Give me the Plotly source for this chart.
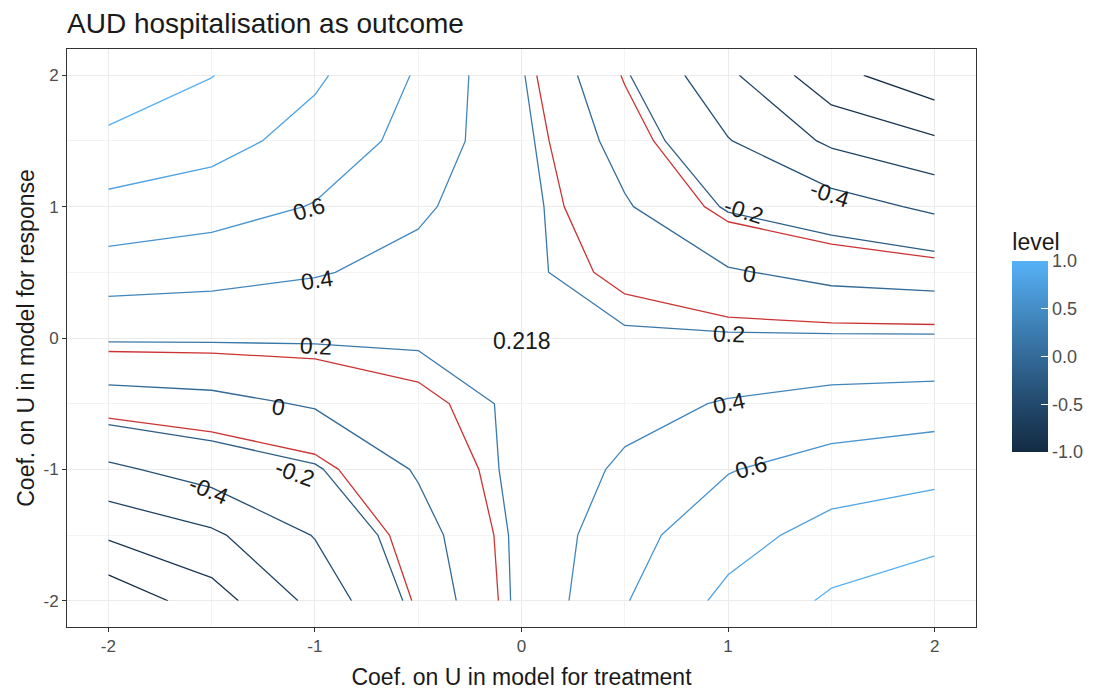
import plotly.graph_objects as go

# grid coordinates
x_vals = [-2.0, -1.5, -1.0, -0.5, 0.0, 0.5, 1.0, 1.5, 2.0]
y_vals = [-2.0, -1.5, -1.0, -0.5, 0.0, 0.5, 1.0, 1.5, 2.0]

# estimated effect on the grid (rows follow y_vals, columns follow x_vals)
z_m20 = [-1.15, -0.89, -0.543, -0.14, 0.24, 0.588, 0.852, 1.029, 1.15]
z_m15 = [-0.77, -0.635, -0.39, -0.078, 0.24, 0.534, 0.72, 0.877, 0.93]
z_m10 = [-0.44, -0.31, -0.22, 0.02, 0.25, 0.434, 0.59, 0.682, 0.743]
z_m05 = [-0.088, -0.056, 0.019, 0.124, 0.227, 0.335, 0.416, 0.473, 0.495]
z_p00 = [0.218, 0.218, 0.218, 0.218, 0.218, 0.218, 0.218, 0.218, 0.218]
z_p05 = [0.505, 0.473, 0.416, 0.335, 0.227, 0.124, 0.019, -0.056, -0.088]
z_p10 = [0.746, 0.682, 0.59, 0.434, 0.25, 0.02, -0.22, -0.31, -0.44]
z_p15 = [0.95, 0.877, 0.72, 0.534, 0.24, -0.078, -0.39, -0.635, -0.77]
z_p20 = [1.16, 1.005, 0.834, 0.58, 0.213, -0.18, -0.559, -0.936, -1.14]
z_grid = [z_m20, z_m15, z_m10, z_m05, z_p00, z_p05, z_p10, z_p15, z_p20]

# significance boundary levels (red)
sig_levels = [-0.165, 0.155]

# axis ticks
tick_vals = [-2, -1, 0, 1, 2]
tick_text = ["-2", "-1", "0", "1", "2"]
cbar_vals = [-1, -0.5, 0, 0.5, 1]
cbar_text = ["-1.0", "-0.5", "0.0", "0.5", "1.0"]

# contour labels
label_text = ["0.6", "0.4", "0.2", "0.218", "0", "-0.2", "-0.4",
              "-0.2", "-0.4", "0", "0.2", "0.4", "0.6"]
label_x = [-1.03, -0.99, -0.996, 0.0, -1.176, -1.098, -1.515,
           1.079, 1.491, 1.103, 1.006, 1.006, 1.113]
label_y = [0.981, 0.441, -0.061, -0.02, -0.525, -1.027, -1.156,
           0.966, 1.095, 0.487, 0.03, -0.494, -0.981]
label_angle = [-17, -8, 3, 0, 10, 20, 22, 18, 18, 8, 2, -12, -16]

colorscale = [[0.0, "#132B43"], [0.25, "#22496C"], [0.5, "#336A98"],
              [0.75, "#448DC6"], [1.0, "#56B1F7"]]
FONT = "Liberation Sans, Arial, sans-serif"

fig = go.Figure()
fig.add_trace(go.Contour(
    x=x_vals, y=y_vals, z=z_grid,
    contours=dict(start=-1.0, end=1.0, size=0.2, coloring="lines", showlabels=False),
    line=dict(width=1.3, smoothing=0),
    colorscale=colorscale, zauto=False, zmin=-1, zmax=1,
    showscale=False, hoverinfo="skip"))
fig.add_trace(go.Contour(
    x=x_vals, y=y_vals, z=z_grid,
    contours=dict(start=sig_levels[0], end=sig_levels[1],
                  size=sig_levels[1] - sig_levels[0], coloring="none"),
    line=dict(width=1.3, smoothing=0, color="#CC3333"),
    showscale=False, hoverinfo="skip"))
fig.add_trace(go.Scatter(
    x=[None], y=[None], mode="markers", showlegend=False, hoverinfo="skip",
    marker=dict(color=[0], colorscale=colorscale, cmin=-1, cmax=1, showscale=True,
                colorbar=dict(
                    x=1.04, xanchor="left", y=(627 - 452) / 578, yanchor="bottom",
                    len=222, lenmode="pixels", thickness=36, thicknessmode="pixels",
                    outlinewidth=0, xpad=0, ypad=0,
                    ticks="inside", ticklen=7, tickcolor="white", tickwidth=1,
                    tickvals=cbar_vals, ticktext=cbar_text,
                    tickfont=dict(size=18, color="#4D4D4D", family=FONT),
                    title=dict(text="level", side="top",
                               font=dict(size=23, color="#1A1A1A", family=FONT))))))

for t, lx, ly, ang in zip(label_text, label_x, label_y, label_angle):
    fig.add_annotation(x=lx, y=ly, text=t, showarrow=False, textangle=ang,
                       font=dict(size=23, color="#1A1A1A", family=FONT))

axis_common = dict(
    range=[-2.2, 2.2], tickvals=tick_vals, ticktext=tick_text,
    showgrid=True, gridcolor="#EBEBEB", gridwidth=1,
    minor=dict(dtick=0.5, tick0=-2, showgrid=True, gridcolor="#F3F3F3", gridwidth=1),
    zeroline=False, showline=True, linecolor="#333333", linewidth=1, mirror=True,
    ticks="outside", ticklen=4, tickcolor="#333333",
    tickfont=dict(size=17, color="#4D4D4D", family=FONT),
)
fig.update_xaxes(**axis_common, title=dict(text="Coef. on U in model for treatment",
                 font=dict(size=23, color="#1A1A1A", family=FONT), standoff=13))
fig.update_yaxes(**axis_common, title=dict(text="Coef. on U in model for response",
                 font=dict(size=23, color="#1A1A1A", family=FONT), standoff=2))

fig.update_layout(
    width=1097, height=695,
    margin=dict(l=67, r=121, t=49, b=68, autoexpand=False),
    plot_bgcolor="white", paper_bgcolor="white",
    title=dict(text="AUD hospitalisation as outcome", x=67 / 1097, xanchor="left",
               y=1 - 23 / 695, yanchor="middle",
               font=dict(size=28, color="#1A1A1A", family=FONT)),
    showlegend=False,
)

fig.write_html("out.html")
